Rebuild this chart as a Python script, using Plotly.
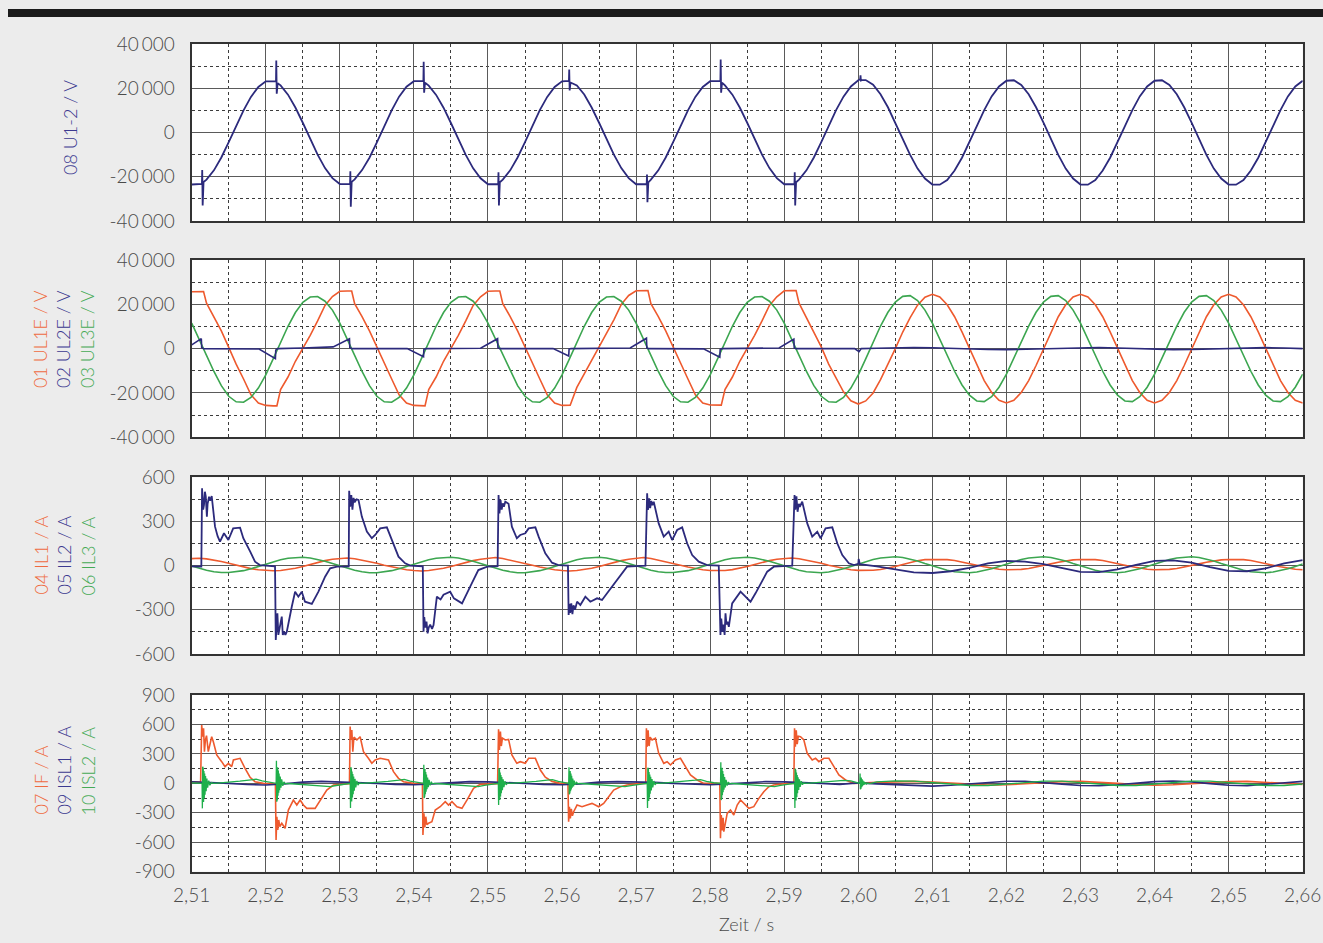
import plotly.graph_objects as go

# ---------------- colours / fonts ----------------
NAVY = "#2c2a7c"
ORANGE = "#ee5a2e"
GREEN = "#3ca650"
GREEN2 = "#1faf4b"
FONT = "Lato"

# ---------------- axes ----------------
X_TICKS = [2.51, 2.52, 2.53, 2.54, 2.55, 2.56, 2.57, 2.58, 2.59, 2.60, 2.61, 2.62, 2.63, 2.64, 2.65, 2.66]
X_LABELS = ["2,51", "2,52", "2,53", "2,54", "2,55", "2,56", "2,57", "2,58", "2,59", "2,60",
            "2,61", "2,62", "2,63", "2,64", "2,65", "2,66"]
U_TICKS = [-40000, -20000, 0, 20000, 40000]
U_LABELS = ["-40\u2006000", "-20\u2006000", "0", "20\u2006000", "40\u2006000"]
I3_TICKS = [-600, -300, 0, 300, 600]
I3_LABELS = ["-600", "-300", "0", "300", "600"]
I4_TICKS = [-900, -600, -300, 0, 300, 600, 900]
I4_LABELS = ["-900", "-600", "-300", "0", "300", "600", "900"]

# 1 ms sample grid (ms after 2.510 s)
GRID_MS = list(range(151))

# ---------------- panel 1 : 08 U1-2 / V ----------------
U12 = [
    -23500, -23400, -21300, -17100, -11300, -4400, 2900, 10000, 16100, 20600,
    23100, 23300, 21300, 17100, 11300, 4400, -2900, -10000, -16100, -20600,
    -23300, -23400, -21200, -17000, -11400, -4500, 2800, 10000, 16200, 20700,
    23200, 23400, 21200, 17000, 11200, 4300, -3000, -10100, -16200, -20700,
    -23400, -23500, -21300, -17100, -11300, -4400, 2900, 10100, 16100, 20600,
    23100, 23300, 21300, 17200, 11300, 4400, -2900, -10000, -16100, -20600,
    -23400, -23400, -21300, -17100, -11300, -4400, 2900, 10000, 16100, 20600,
    23200, 23400, 21300, 17100, 11300, 4400, -2900, -10000, -16100, -20600,
    -23400, -23500, -21300, -17100, -11300, -4400, 2900, 10100, 16200, 20800,
    23600, 23700, 21600, 17300, 11400, 4400, -2900, -10100, -16300, -20800,
    -23500, -23600, -21500, -17200, -11400, -4500, 2900, 10100, 16300, 20800,
    23400, 23600, 21500, 17300, 11400, 4500, -2900, -10100, -16300, -20800,
    -23500, -23600, -21500, -17200, -11400, -4500, 2900, 10100, 16300, 20800,
    23400, 23600, 21500, 17300, 11400, 4500, -2900, -10100, -16300, -20800,
    -23500, -23600, -21500, -17200, -11400, -4500, 2900, 10100, 16300, 20800,
    23400,
]
U12_SPIKE_T = [2.51138, 2.51142, 2.51148, 2.5116,
               2.52138, 2.52142, 2.52148, 2.5216,
               2.53138, 2.53142, 2.53148, 2.5316,
               2.54128, 2.54132, 2.54138, 2.5415,
               2.55138, 2.55142, 2.55148, 2.5516,
               2.56093, 2.56097, 2.56103, 2.56115,
               2.57143, 2.57147, 2.57153, 2.57165,
               2.58138, 2.58142, 2.58148, 2.5816,
               2.59138, 2.59142, 2.59148, 2.5916,
               2.60025, 2.6003, 2.60035, 2.6005]
U12_SPIKE_V = [-23200, -17000, -33000, -22400,
               23200, 32500, 17500, 22300,
               -23300, -17500, -33500, -22300,
               23300, 32000, 18000, 22500,
               -23300, -18000, -33000, -22500,
               23300, 28500, 19000, 22600,
               -23300, -19000, -31500, -22500,
               23300, 33000, 18000, 22500,
               -23300, -18000, -33000, -22500,
               24000, 25800, 23500, 23700]

# ---------------- panel 2 : UL1E / UL2E / UL3E ----------------
UL1E = [
    25700, 25800, 20500, 14500, 8000, 600, -7000, -13700, -20800, -24500,
    -25600, -25800, -18500, -12800, -5700, 0, 6000, 12500, 19500, 23500,
    25900, 26000, 20300, 14500, 8000, 600, -7000, -13700, -20800, -24500,
    -25600, -25800, -18500, -12800, -5700, 0, 6000, 12500, 19500, 23400,
    25900, 26000, 20300, 14500, 8000, 600, -7000, -13700, -20800, -24500,
    -25600, -25500, -17500, -11500, -5000, 500, 6500, 13000, 20000, 24000,
    26100, 26200, 20300, 14500, 8000, 600, -7000, -13700, -20800, -24500,
    -25400, -25500, -18500, -12800, -5700, 0, 6000, 12500, 19500, 23400,
    26100, 26200, 20500, 14000, 7500, 800, -7000, -13500, -19500, -23500,
    -25000, -23600, -20000, -14000, -7300, 0, 7500, 14000, 19600, 23200,
    24500, 23300, 19800, 14400, 7600, 0, -7600, -14400, -19800, -23300,
    -24500, -23300, -19800, -14400, -7600, 0, 7600, 14400, 19800, 23300,
    24500, 23300, 19800, 14400, 7600, 0, -7600, -14400, -19800, -23300,
    -24500, -23300, -19800, -14400, -7600, 0, 7600, 14400, 19800, 23300,
    24500, 23300, 19800, 14400, 7600, 0, -7600, -14400, -19800, -23300,
    -24500,
]
UL1E_KNEE_T = [2.5116, 2.5215, 2.5316, 2.5415, 2.5516, 2.5611, 2.5716, 2.5815, 2.5916]
UL1E_KNEE_V = [25800, -25800, 26000, -25800, 26000, -25500, 26200, -25500, 26200]

UL3E = [
    11500, 4500, -3000, -10300, -16700, -21500, -24000, -24200, -22000, -17800,
    -11800, -4600, 3000, 10100, 16300, 20900, 23300, 23500, 21400, 17400,
    11500, 4500, -3000, -10300, -16700, -21500, -24000, -24200, -22000, -17800,
    -11800, -4600, 3000, 10100, 16300, 20900, 23300, 23500, 21400, 17400,
    11500, 4500, -3000, -10300, -16700, -21500, -24000, -24200, -22000, -17800,
    -11800, -4600, 3000, 10100, 16300, 20900, 23300, 23500, 21400, 17400,
    11500, 4500, -3000, -10300, -16700, -21500, -24000, -24200, -22000, -17800,
    -11800, -4600, 3000, 10100, 16300, 20900, 23300, 23500, 21400, 17400,
    11500, 4500, -3000, -10300, -16700, -21500, -24000, -24200, -22000, -17800,
    -11800, -4600, 3000, 10200, 16400, 21000, 23600, 23900, 21700, 17400,
    11500, 4500, -3000, -10200, -16400, -21000, -23600, -23900, -21700, -17400,
    -11500, -4500, 3000, 10200, 16400, 21000, 23600, 23900, 21700, 17400,
    11500, 4500, -3000, -10200, -16400, -21000, -23600, -23900, -21700, -17400,
    -11500, -4500, 3000, 10200, 16400, 21000, 23600, 23900, 21700, 17400,
    11500, 4500, -3000, -10200, -16400, -21000, -23600, -23900, -21700, -17400,
    -11500,
]

UL2E_POINTS = [
    (2.5100, 1700), (2.5113, 4500), (2.51135, 500), (2.5116, 0), (2.5191, -150),
    (2.5213, -4500), (2.52135, -700), (2.5216, 0), (2.5250, 300), (2.5291, 800),
    (2.5313, 4500), (2.53135, 500), (2.5316, 0), (2.5391, 0), (2.5413, -3600),
    (2.54135, -300), (2.5416, 0), (2.5490, 200), (2.5513, 4500), (2.55135, 400),
    (2.5516, 0), (2.5588, 0), (2.5609, -3300), (2.56095, -200), (2.5612, 0),
    (2.5692, 300), (2.5714, 4700), (2.57145, 300), (2.5717, 0), (2.5791, -100),
    (2.5813, -3900), (2.58135, -300), (2.5816, 0), (2.5893, 300), (2.5913, 4300),
    (2.59135, 300), (2.5916, 0), (2.5995, 0), (2.6001, -1400), (2.6004, 0),
    (2.6025, 200), (2.6050, 400), (2.6075, 500), (2.6100, 400), (2.6125, 100),
    (2.6150, -200), (2.6175, -400), (2.6200, -450), (2.6225, -300), (2.6250, 0),
    (2.6275, 300), (2.6300, 450), (2.6325, 500), (2.6350, 300), (2.6375, 0),
    (2.6400, -300), (2.6425, -450), (2.6450, -400), (2.6475, -200), (2.6500, 100),
    (2.6525, 350), (2.6550, 450), (2.6575, 300), (2.6600, 0),
]

# ---------------- panel 3 : IL1 / IL2 / IL3 ----------------
IL1 = [
    48, 50, 46, 38, 28, 16, 3, -9, -20, -28, -33, -35, -33, -27, -18, -6, 8, 22, 34, 43,
    48, 52, 47, 38, 28, 16, 3, -9, -20, -28, -33, -36, -33, -27, -18, -6, 8, 22, 34, 43,
    50, 55, 48, 38, 28, 16, 3, -9, -20, -28, -33, -36, -33, -27, -18, -6, 8, 22, 34, 43,
    50, 55, 48, 38, 28, 16, 3, -9, -20, -28, -33, -35, -33, -27, -18, -6, 8, 22, 34, 43,
    50, 52, 47, 38, 28, 16, 3, -9, -20, -28, -32, -33, -31, -26, -17, -6, 8, 22, 33, 41,
    42, 43, 41, 35, 26, 15, 3, -8, -17, -24, -28, -28, -25, -19, -10, 1, 12, 23, 32, 39,
    42, 43, 41, 35, 26, 15, 3, -8, -17, -24, -28, -28, -25, -19, -10, 1, 12, 23, 32, 39,
    42, 43, 41, 35, 26, 15, 3, -8, -17, -24, -28,
]
IL3 = [
    -2, -18, -31, -41, -47, -47, -43, -34, -21, -5, 11, 27, 40, 50, 56, 57, 52, 43, 30, 14,
    -2, -18, -31, -41, -48, -48, -43, -34, -21, -5, 11, 27, 40, 50, 56, 57, 52, 43, 30, 14,
    -2, -18, -31, -41, -48, -48, -43, -34, -21, -5, 11, 27, 40, 50, 56, 57, 52, 43, 30, 14,
    -2, -18, -31, -41, -47, -47, -43, -34, -21, -5, 11, 27, 40, 50, 56, 57, 52, 43, 30, 14,
    -2, -18, -31, -41, -47, -48, -43, -34, -21, -5, 11, 28, 42, 52, 58, 60, 55, 45, 31, 14,
    -2, -18, -31, -41, -47, -48, -43, -34, -21, -5, 11, 28, 42, 52, 58, 60, 55, 45, 31, 14,
    -2, -18, -31, -41, -47, -48, -43, -34, -21, -5, 11, 28, 42, 52, 58, 60, 55, 45, 31, 14,
    -2, -18, -31, -41, -47, -48, -43, -34, -21, -5, 11,
]
IL2_POINTS = [
    (2.5100, -5), (2.5113, -7),
    (2.51140, 525), (2.51155, 380), (2.51166, 412), (2.51178, 502), (2.51190, 470), (2.51205, 333),
    (2.51215, 420), (2.51234, 468), (2.51250, 440), (2.51270, 473), (2.51315, 265), (2.51350, 200),
    (2.51382, 163), (2.51436, 220), (2.51495, 174), (2.51560, 253), (2.51653, 258), (2.51697, 186),
    (2.51790, 95), (2.51855, 27), (2.51920, 4), (2.52050, -3), (2.52125, -5),
    (2.52135, -505), (2.52145, -380), (2.52157, -324), (2.52170, -470), (2.52184, -437), (2.52200, -390),
    (2.52216, -346), (2.52230, -470), (2.52247, -448), (2.52265, -470), (2.52284, -448), (2.52351, -279),
    (2.52396, -177), (2.52440, -211), (2.52486, -177), (2.52530, -245), (2.52622, -260), (2.52711, -177),
    (2.52801, -75), (2.52869, -18), (2.52960, -7), (2.53120, -5),
    (2.53126, 509), (2.53140, 400), (2.53155, 480), (2.53170, 380), (2.53185, 460), (2.53200, 430),
    (2.53225, 450), (2.53252, 446), (2.53297, 333), (2.53365, 231), (2.53432, 186), (2.53477, 208),
    (2.53545, 253), (2.53635, 260), (2.53703, 174), (2.53792, 61), (2.53882, 16), (2.53950, 0), (2.54120, -5),
    (2.54130, -448), (2.54140, -350), (2.54155, -420), (2.54170, -380), (2.54185, -460), (2.54200, -420),
    (2.54220, -400), (2.54245, -430), (2.54265, -403), (2.54310, -211), (2.54360, -230), (2.54400, -197),
    (2.54490, -177), (2.54540, -222), (2.54650, -256), (2.54760, -143), (2.54870, -30), (2.54990, -7), (2.55130, -3),
    (2.55143, 480), (2.55155, 355), (2.55170, 446), (2.55185, 380), (2.55200, 423), (2.55215, 400),
    (2.55234, 434), (2.55278, 420), (2.55323, 265), (2.55390, 186), (2.55436, 208), (2.55504, 220),
    (2.55549, 253), (2.55640, 260), (2.55684, 197), (2.55774, 84), (2.55865, 20), (2.55950, 4), (2.56080, 0),
    (2.56089, -335), (2.56100, -260), (2.56110, -320), (2.56125, -256), (2.56140, -330), (2.56155, -270),
    (2.56175, -300), (2.56203, -245), (2.56247, -267), (2.56315, -211), (2.56382, -245), (2.56473, -222),
    (2.56540, -233), (2.56608, -188), (2.56676, -143), (2.56743, -97), (2.56811, -52), (2.56878, -7), (2.57126, 0),
    (2.57149, 491), (2.57160, 378), (2.57175, 457), (2.57190, 390), (2.57205, 440), (2.57220, 410),
    (2.57238, 434), (2.57305, 287), (2.57373, 197), (2.57440, 231), (2.57486, 174), (2.57554, 242),
    (2.57622, 260), (2.57689, 152), (2.57757, 72), (2.57846, 27), (2.57959, 4), (2.58116, 0),
    (2.58139, -471), (2.58150, -360), (2.58165, -450), (2.58180, -400), (2.58195, -470), (2.58207, -324),
    (2.58220, -400), (2.58235, -380), (2.58252, -416), (2.58297, -256), (2.58342, -222), (2.58410, -177),
    (2.58477, -211), (2.58545, -245), (2.58612, -188), (2.58680, -120), (2.58770, -41), (2.58860, -7), (2.59108, 0),
    (2.59139, 480), (2.59150, 380), (2.59165, 470), (2.59180, 366), (2.59197, 420), (2.59210, 400),
    (2.59243, 434), (2.59311, 287), (2.59378, 197), (2.59446, 231), (2.59491, 186), (2.59558, 253),
    (2.59649, 260), (2.59716, 152), (2.59784, 72), (2.59873, 16), (2.59940, 4), (2.60000, 12),
    (2.60005, 45), (2.60020, 10),
    (2.6025, -5), (2.6050, -25), (2.6075, -45), (2.6100, -50), (2.6125, -38), (2.6150, -15),
    (2.6175, 15), (2.6200, 32), (2.6225, 28), (2.6250, 10), (2.6275, -18), (2.6300, -42),
    (2.6325, -44), (2.6350, -25), (2.6375, 5), (2.6400, 32), (2.6425, 36), (2.6450, 20),
    (2.6475, -10), (2.6500, -36), (2.6525, -38), (2.6550, -18), (2.6575, 15), (2.6600, 38),
]

# ---------------- panel 4 : IF / ISL1 / ISL2 ----------------
IF_POINTS = [
    (2.5100, 15), (2.5112, 12),
    (2.51135, 595), (2.51148, 475), (2.51160, 561), (2.51172, 323), (2.51185, 442), (2.51200, 486),
    (2.51224, 323), (2.51270, 475), (2.51292, 424), (2.51338, 289), (2.51405, 221), (2.51450, 170),
    (2.51495, 204), (2.51540, 170), (2.51563, 238), (2.51653, 255), (2.51720, 153), (2.51788, 62),
    (2.51855, 17), (2.51968, 0), (2.52130, -5),
    (2.52139, -577), (2.52150, -340), (2.52162, -475), (2.52175, -373), (2.52190, -441), (2.52216, -407),
    (2.52261, -458), (2.52305, -272), (2.52373, -170), (2.52419, -221), (2.52464, -170), (2.52508, -221),
    (2.52554, -255), (2.52666, -255), (2.52734, -170), (2.52824, -68), (2.52914, -17), (2.53095, -7), (2.53130, -5),
    (2.53139, 578), (2.53150, 442), (2.53162, 544), (2.53175, 323), (2.53190, 470), (2.53230, 442),
    (2.53274, 475), (2.53319, 323), (2.53386, 255), (2.53432, 204), (2.53477, 238), (2.53545, 255),
    (2.53657, 238), (2.53724, 119), (2.53792, 51), (2.53860, 17), (2.53995, 0), (2.54115, -3),
    (2.54122, -526), (2.54135, -306), (2.54148, -450), (2.54160, -340), (2.54175, -420), (2.54197, -407),
    (2.54243, -390), (2.54288, -272), (2.54355, -238), (2.54423, -187), (2.54468, -221), (2.54514, -187),
    (2.54581, -238), (2.54649, -255), (2.54716, -170), (2.54805, -51), (2.54896, -10), (2.55130, -3),
    (2.55143, 550), (2.55155, 340), (2.55168, 527), (2.55180, 380), (2.55195, 460), (2.55234, 442),
    (2.55278, 448), (2.55323, 289), (2.55390, 204), (2.55436, 221), (2.55504, 204), (2.55549, 255),
    (2.55640, 255), (2.55707, 136), (2.55774, 62), (2.55865, 20), (2.55977, 0), (2.56080, 0),
    (2.56089, -390), (2.56100, -238), (2.56112, -357), (2.56125, -260), (2.56140, -330), (2.56157, -289),
    (2.56203, -221), (2.56270, -238), (2.56338, -221), (2.56405, -204), (2.56495, -238), (2.56562, -204),
    (2.56630, -136), (2.56697, -68), (2.56788, -34), (2.56878, -17), (2.57058, 0), (2.57130, 0),
    (2.57139, 561), (2.57150, 374), (2.57162, 540), (2.57175, 380), (2.57190, 470), (2.57216, 442),
    (2.57261, 459), (2.57305, 306), (2.57373, 204), (2.57419, 221), (2.57464, 187), (2.57531, 238),
    (2.57599, 255), (2.57666, 170), (2.57734, 85), (2.57824, 34), (2.57914, 0), (2.58130, 0),
    (2.58139, -560), (2.58150, -323), (2.58162, -480), (2.58175, -350), (2.58184, -492), (2.58230, -306),
    (2.58274, -272), (2.58319, -323), (2.58365, -221), (2.58410, -170), (2.58454, -204), (2.58522, -255),
    (2.58589, -238), (2.58657, -153), (2.58724, -85), (2.58792, -34), (2.58860, -17), (2.59040, 0), (2.59130, 0),
    (2.59139, 561), (2.59150, 374), (2.59162, 540), (2.59175, 400), (2.59190, 480), (2.59220, 475),
    (2.59265, 442), (2.59310, 306), (2.59378, 238), (2.59423, 255), (2.59468, 221), (2.59536, 255),
    (2.59603, 255), (2.59671, 170), (2.59738, 85), (2.59828, 34), (2.59940, 0),
    (2.6025, 10), (2.6050, 18), (2.6075, 20), (2.6100, 12), (2.6125, 0), (2.6150, -12),
    (2.6175, -18), (2.6200, -15), (2.6225, -5), (2.6250, 8), (2.6275, 18), (2.6300, 20),
    (2.6325, 12), (2.6350, 0), (2.6375, -12), (2.6400, -18), (2.6425, -15), (2.6450, -5),
    (2.6475, 8), (2.6500, 18), (2.6525, 20), (2.6550, 12), (2.6575, 0), (2.6600, -10),
]

# ISL1 sampled every 2.5 ms from 2.510 s
ISL1_STEP_MS = 2.5
ISL1 = [
    17, 12, 0, -12, -17, -5, 12, 20,
    15, 10, 0, -10, -15, -5, 10, 18,
    15, 10, 0, -12, -15, -5, 12, 18,
    15, 10, 0, -10, -15, -5, 10, 18,
    15, 10, 0, -10,
    5, -5, -15, -25, -28, -20, -8, 10, 22, 22, 10, -8, -22, -25, -15, 3, 18, 24, 15, -3,
    -20, -24, -10, 8, 20,
]

# ISL2: slow component (between bursts) + damped bursts at each re-ignition
ISL2_BASE = [
    (2.5100, 5), (2.5110, 2),
    (2.5135, 3), (2.5150, 10), (2.5165, 22), (2.5180, 35), (2.5187, 42), (2.5195, 25), (2.5205, 8), (2.5212, 2),
    (2.5235, -4), (2.5250, -12), (2.5265, -22), (2.5280, -30), (2.5287, -34), (2.5295, -22), (2.5305, -8), (2.5312, -2),
    (2.5335, 3), (2.5350, 10), (2.5365, 20), (2.5380, 32), (2.5387, 40), (2.5395, 22), (2.5405, 6), (2.5411, 2),
    (2.5435, -4), (2.5450, -12), (2.5465, -22), (2.5480, -30), (2.5487, -33), (2.5495, -20), (2.5505, -7), (2.5512, -2),
    (2.5535, 3), (2.5550, 10), (2.5565, 20), (2.5580, 32), (2.5587, 38), (2.5595, 20), (2.5603, 5), (2.5607, 2),
    (2.5630, -4), (2.5645, -12), (2.5660, -22), (2.5675, -30), (2.5685, -33), (2.5695, -20), (2.5705, -7), (2.5713, -2),
    (2.5736, 3), (2.5750, 10), (2.5765, 20), (2.5780, 32), (2.5787, 38), (2.5795, 20), (2.5805, 6), (2.5812, 2),
    (2.5835, -4), (2.5850, -12), (2.5865, -22), (2.5880, -30), (2.5887, -33), (2.5895, -20), (2.5905, -7), (2.5912, -2),
    (2.5935, 3), (2.5950, 10), (2.5965, 20), (2.5980, 30), (2.5990, 25), (2.6000, 10),
    (2.6025, 15), (2.6050, 25), (2.6075, 22), (2.6100, 8), (2.6125, -10), (2.6150, -22),
    (2.6175, -22), (2.6200, -8), (2.6225, 10), (2.6250, 22), (2.6275, 22), (2.6300, 8),
    (2.6325, -10), (2.6350, -22), (2.6375, -22), (2.6400, -8), (2.6425, 10), (2.6450, 22),
    (2.6475, 22), (2.6500, 8), (2.6525, -10), (2.6550, -22), (2.6575, -22), (2.6600, -8),
]
BURST_T = [2.5114, 2.5214, 2.5314, 2.5413, 2.5514, 2.5609, 2.5715, 2.5814, 2.5914, 2.6002]
BURST_DT_MS = [0, 0.04, 0.08, 0.12, 0.16, 0.20, 0.25, 0.30, 0.35, 0.40, 0.47, 0.55, 0.65, 0.75, 0.90, 1.05, 1.25, 1.50]
BURST_V = [
    [0, -255, 170, -230, 150, -190, 125, -150, 100, -115, 75, -80, 50, -45, 28, -20, 8, 0],
    [0, 231, -187, 200, -160, 165, -125, 130, -95, 100, -70, 70, -45, 40, -25, 15, -5, 0],
    [0, -250, 165, -220, 140, -185, 120, -145, 95, -110, 70, -75, 45, -40, 25, -18, 6, 0],
    [0, 190, -150, 170, -130, 145, -110, 115, -85, 90, -60, 60, -40, 35, -20, 12, -5, 0],
    [0, -221, 153, -200, 130, -170, 110, -135, 85, -100, 65, -70, 42, -38, 22, -15, 5, 0],
    [0, 163, -110, 145, -95, 125, -80, 100, -62, 78, -45, 50, -30, 28, -15, 10, -4, 0],
    [0, -250, 160, -220, 140, -180, 115, -145, 90, -105, 68, -72, 44, -40, 24, -16, 6, 0],
    [0, 215, -170, 190, -150, 160, -120, 125, -90, 95, -65, 65, -42, 36, -22, 13, -5, 0],
    [0, -250, 150, -215, 130, -175, 110, -140, 85, -100, 62, -68, 40, -36, 22, -14, 5, 0],
    [0, 100, -60, 80, -50, 60, -40, 45, -28, 32, -18, 20, -12, 10, -6, 4, -2, 0],
]

# ---------------- helpers ----------------
T_START = 2.51
grid_t = [round(T_START + m / 1000.0, 6) for m in GRID_MS]


def merged(t1, v1, t2, v2):
    pts = sorted(zip(list(t1) + list(t2), list(v1) + list(v2)))
    return [p[0] for p in pts], [p[1] for p in pts]


def unzip(points):
    return [p[0] for p in points], [p[1] for p in points]


u12_t, u12_v = merged(grid_t, U12, U12_SPIKE_T, U12_SPIKE_V)
ul1_t, ul1_v = merged(grid_t, UL1E, UL1E_KNEE_T, UL1E_KNEE_V)
ul2_t, ul2_v = unzip(UL2E_POINTS)
il2_t, il2_v = unzip(IL2_POINTS)
if_t, if_v = unzip(IF_POINTS)
isl1_t = [round(T_START + i * ISL1_STEP_MS / 1000.0, 6) for i in range(len(ISL1))]
b_t, b_v = unzip(ISL2_BASE)
bt_all, bv_all = [], []
for t0, vals in zip(BURST_T, BURST_V):
    for dt, v in zip(BURST_DT_MS, vals):
        bt_all.append(t0 + dt / 1000.0)
        bv_all.append(v)
isl2_t, isl2_v = merged(b_t, b_v, bt_all, bv_all)

# ---------------- figure ----------------
W, H = 1323, 943
XL, XR = 191.7 / W, 1302.7 / W
PANELS = [(44.0, 221.0), (260.0, 437.3), (477.3, 654.0), (695.0, 871.7)]


def ydom(top, bot):
    return [1 - bot / H, 1 - top / H]


fig = go.Figure()


def add(x, y, color, idx, width=1.6):
    suffix = "" if idx == 1 else str(idx)
    fig.add_trace(go.Scatter(x=x, y=y, mode="lines", line=dict(color=color, width=width),
                             xaxis="x" + suffix, yaxis="y" + suffix, showlegend=False,
                             hoverinfo="skip"))


add(u12_t, u12_v, NAVY, 1, 1.8)
add(ul1_t, ul1_v, ORANGE, 2)
add(grid_t, UL3E, GREEN, 2)
add(ul2_t, ul2_v, NAVY, 2)
add(grid_t, IL1, ORANGE, 3)
add(grid_t, IL3, GREEN, 3)
add(il2_t, il2_v, NAVY, 3, 1.8)
add(if_t, if_v, ORANGE, 4)
add(isl1_t, ISL1, NAVY, 4)
add(isl2_t, isl2_v, GREEN2, 4, 1.3)

GRID_COL = "#5a5a5a"
DASH_COL = "#3c3c3c"
FRAME_COL = "#333333"
TICK_FONT = dict(family=FONT, size=19, color="#4a4a4a", weight=300)

x_minor = [round(v + 0.005, 3) for v in X_TICKS[:-1]]

layout = dict(
    width=W, height=H,
    margin=dict(l=0, r=0, t=0, b=0),
    paper_bgcolor="#ececec",
    plot_bgcolor="#ffffff",
    template="none",
    showlegend=False,
)

y_specs = [
    (U_TICKS, U_LABELS, [-40000, 40000], [-30000, -10000, 10000, 30000]),
    (U_TICKS, U_LABELS, [-40000, 40000], [-30000, -10000, 10000, 30000]),
    (I3_TICKS, I3_LABELS, [-600, 600], [-450, -150, 150, 450]),
    (I4_TICKS, I4_LABELS, [-900, 900], [-750, -450, -150, 150, 450, 750]),
]

for i, ((top, bot), (yt, yl, yr, ym)) in enumerate(zip(PANELS, y_specs), start=1):
    sfx = "" if i == 1 else str(i)
    layout["xaxis" + sfx] = dict(
        domain=[XL, XR], range=[2.51, 2.66], anchor="y" + sfx,
        tickmode="array", tickvals=X_TICKS, ticktext=X_LABELS,
        showticklabels=(i == 4), ticks="", ticklabelstandoff=5,
        showgrid=True, gridcolor=GRID_COL, gridwidth=1,
        minor=dict(tickmode="array", tickvals=x_minor, showgrid=True,
                   gridcolor=DASH_COL, griddash="3px,3px", gridwidth=1, ticks=""),
        showline=True, mirror=True, linecolor=FRAME_COL, linewidth=2,
        zeroline=False, automargin=False, tickfont=TICK_FONT, fixedrange=True,
    )
    layout["yaxis" + sfx] = dict(
        domain=ydom(top, bot), range=yr, anchor="x" + sfx,
        tickmode="array", tickvals=yt, ticktext=yl, ticks="", ticklabelstandoff=11,
        showgrid=True, gridcolor=GRID_COL, gridwidth=1,
        minor=dict(tickmode="array", tickvals=ym, showgrid=True,
                   gridcolor=DASH_COL, griddash="3px,3px", gridwidth=1, ticks=""),
        showline=True, mirror=True, linecolor=FRAME_COL, linewidth=2,
        zeroline=False, automargin=False, tickfont=TICK_FONT, fixedrange=True,
    )

fig.update_layout(**layout)

# axis titles (rotated)
TITLE_SIZE = 18
ORANGE_T = "#ef6a40"
NAVY_T = "#3b3990"
GREEN_T = "#45aa55"
COLS_X = [40, 63, 87]
titles = [
    [("08 U1-2 / V", NAVY_T, 70, 128, "middle")],
    [("01 UL1E / V", ORANGE_T, COLS_X[0], 390, "bottom"),
     ("02 UL2E / V", NAVY_T, COLS_X[1], 390, "bottom"),
     ("03 UL3E / V", GREEN_T, COLS_X[2], 390, "bottom")],
    [("04 IL1 / A", ORANGE_T, COLS_X[0], 597, "bottom"),
     ("05 IL2 / A", NAVY_T, COLS_X[1], 597, "bottom"),
     ("06 IL3 / A", GREEN_T, COLS_X[2], 597, "bottom")],
    [("07 IF / A", ORANGE_T, COLS_X[0], 817, "bottom"),
     ("09 ISL1 / A", NAVY_T, COLS_X[1], 817, "bottom"),
     ("10 ISL2 / A", GREEN_T, COLS_X[2], 817, "bottom")],
]
for group in titles:
    for text, col, xp, yp, ya in group:
        fig.add_annotation(text=text, xref="paper", yref="paper", x=xp / W, y=1 - yp / H,
                           xanchor="center", yanchor=ya, textangle=-90, showarrow=False,
                           font=dict(family=FONT, size=TITLE_SIZE, color=col, weight=300))

fig.add_annotation(text="Zeit / s", xref="paper", yref="paper", x=746 / W, y=1 - 924 / H,
                   xanchor="center", yanchor="middle", showarrow=False,
                   font=dict(family=FONT, size=18, color="#4a4a4a", weight=300))

# black band at the top of the page
fig.add_shape(type="rect", xref="paper", yref="paper", x0=8 / W, x1=1, y0=1 - 17 / H, y1=1 - 9 / H,
              fillcolor="#1c1c1c", line=dict(width=0), layer="above")

fig.write_html(
    "out.html",
    config={"displayModeBar": False},
    post_script="document.body.style.margin='0px';document.body.style.padding='0px';"
                "document.body.style.background='#ececec';",
)
